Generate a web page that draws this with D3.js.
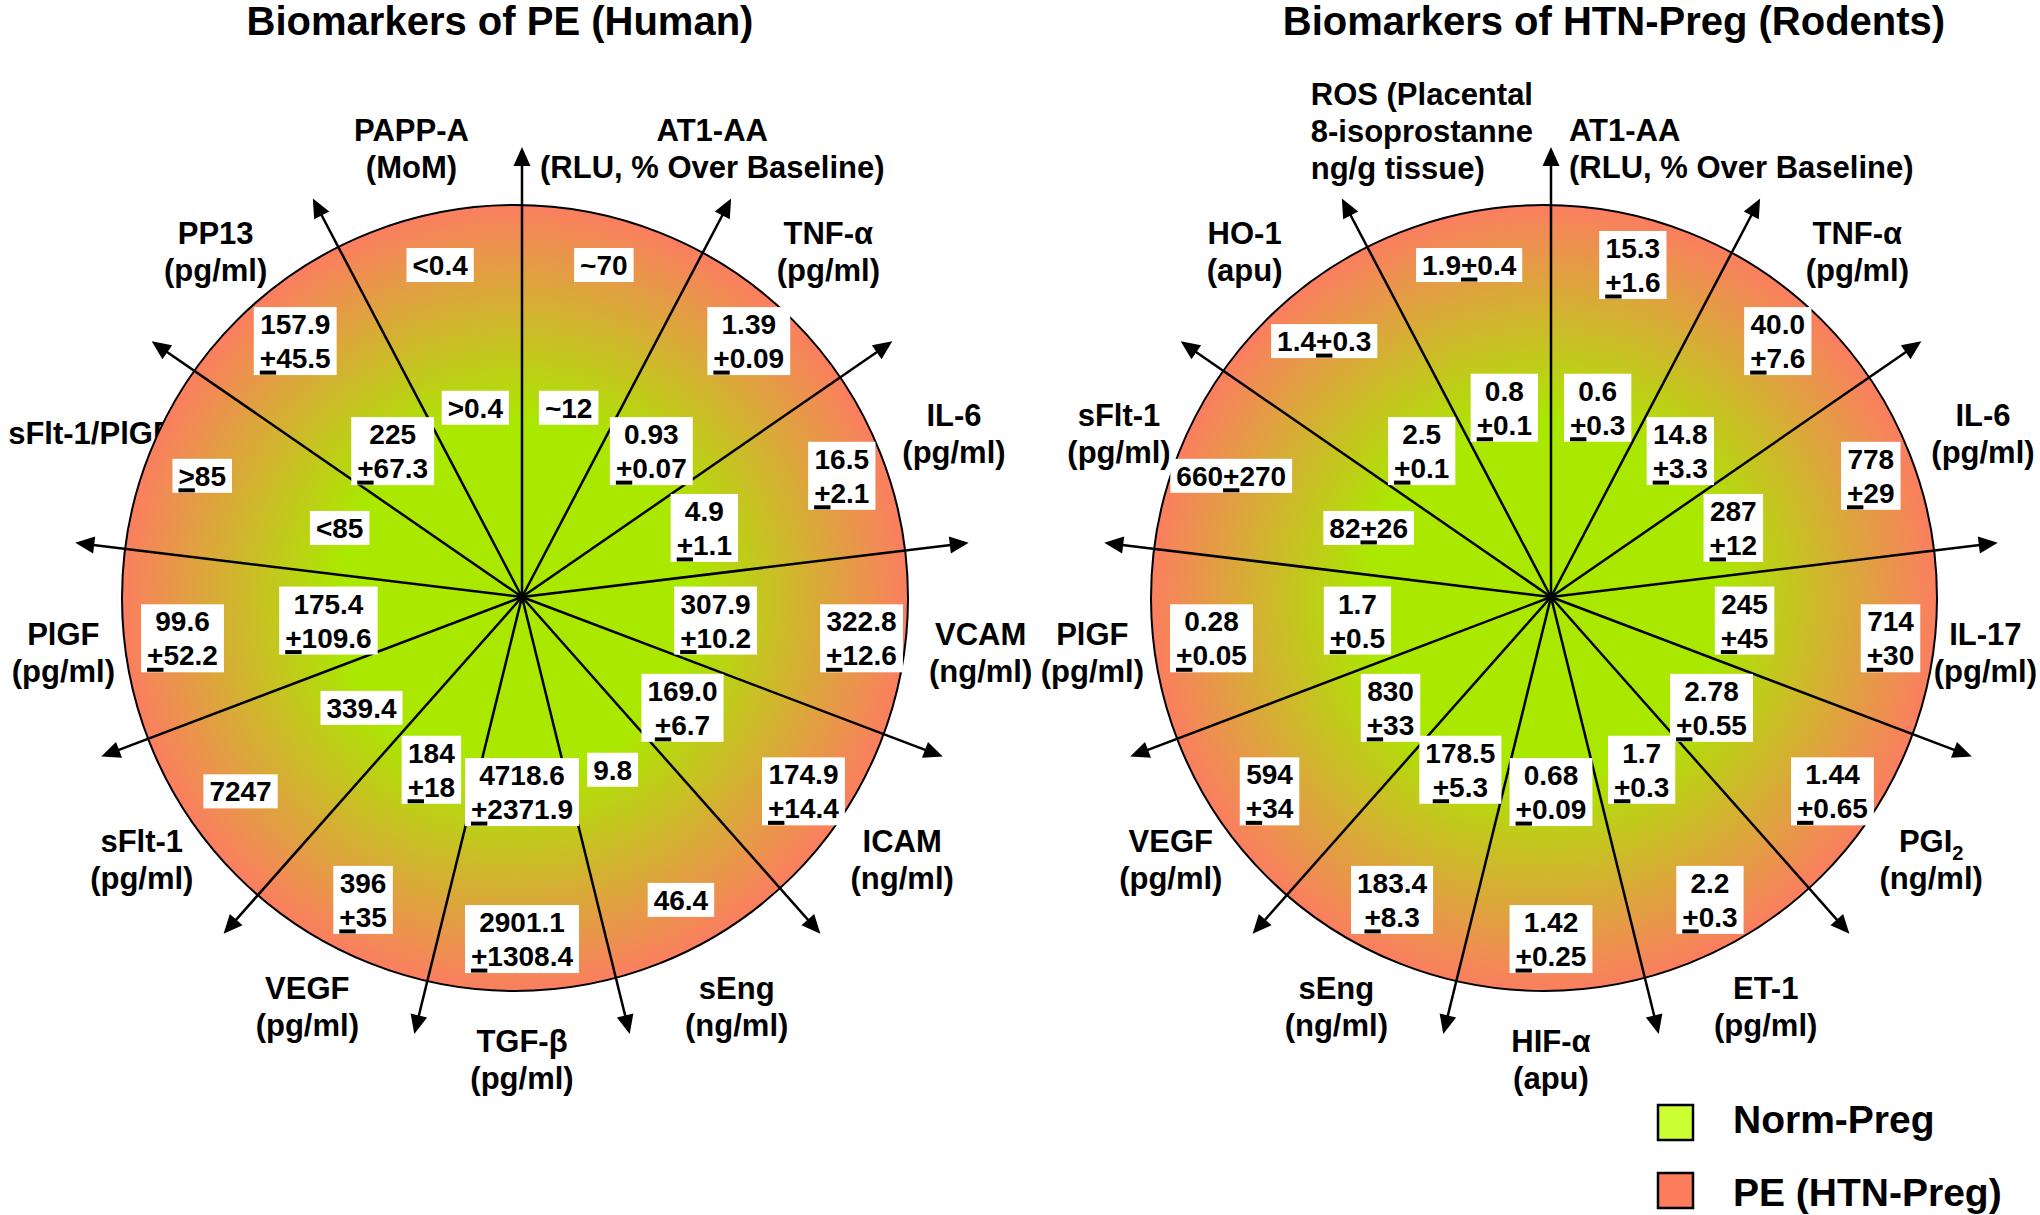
<!DOCTYPE html>
<html lang="en">
  <head>
    <meta charset="UTF-8" />
    <title>Biomarkers of PE / HTN-Preg</title>
    <script src="https://d3js.org/d3.v7.min.js"></script>
    <style>
      body { margin: 0; background: #fff; overflow: hidden; }
      text { font-family: 'Liberation Sans', Arial, sans-serif; font-weight: bold; fill: #000; }
    </style>
  </head>
  <body>
    <svg id="chart" width="2040" height="1215"></svg>
    <script>
      // Human panel: one wedge per marker, clockwise from the vertical arrow
      const humanMarkers = [
        'AT1-AA\n(RLU, % Over Baseline)',
        'TNF-α\n(pg/ml)',
        'IL-6\n(pg/ml)',
        'VCAM\n(ng/ml)',
        'ICAM\n(ng/ml)',
        'sEng\n(ng/ml)',
        'TGF-β\n(pg/ml)',
        'VEGF\n(pg/ml)',
        'sFlt-1\n(pg/ml)',
        'PlGF\n(pg/ml)',
        'sFlt-1/PlGF',
        'PP13\n(pg/ml)',
        'PAPP-A\n(MoM)'
      ]
      const humanNorm = ['~12', '0.93\n±0.07', '4.9\n±1.1', '307.9\n±10.2', '169.0\n±6.7', '9.8',
        '4718.6\n±2371.9', '184\n±18', '339.4', '175.4\n±109.6', '<85', '225\n±67.3', '>0.4']
      const humanPE = ['~70', '1.39\n±0.09', '16.5\n±2.1', '322.8\n±12.6', '174.9\n±14.4', '46.4',
        '2901.1\n±1308.4', '396\n±35', '7247', '99.6\n±52.2', '≥85', '157.9\n±45.5', '<0.4']

      // Rodent panel
      const rodentMarkers = [
        'AT1-AA\n(RLU, % Over Baseline)',
        'TNF-α\n(pg/ml)',
        'IL-6\n(pg/ml)',
        'IL-17\n(pg/ml)',
        'PGI₂\n(ng/ml)',
        'ET-1\n(pg/ml)',
        'HIF-α\n(apu)',
        'sEng\n(ng/ml)',
        'VEGF\n(pg/ml)',
        'PlGF\n(pg/ml)',
        'sFlt-1\n(pg/ml)',
        'HO-1\n(apu)',
        'ROS (Placental\n8-isoprostanne\nng/g tissue)'
      ]
      const rodentNorm = ['0.6\n±0.3', '14.8\n±3.3', '287\n±12', '245\n±45', '2.78\n±0.55', '1.7\n±0.3',
        '0.68\n±0.09', '178.5\n±5.3', '830\n±33', '1.7\n±0.5', '82±26', '2.5\n±0.1', '0.8\n±0.1']
      const rodentPE = ['15.3\n±1.6', '40.0\n±7.6', '778\n±29', '714\n±30', '1.44\n±0.65', '2.2\n±0.3',
        '1.42\n±0.25', '183.4\n±8.3', '594\n±34', '0.28\n±0.05', '660±270', '1.4±0.3', '1.9±0.4']

      const titles = ['Biomarkers of PE (Human)', 'Biomarkers of HTN-Preg (Rodents)']
      const legendLabels = ['Norm-Preg', 'PE (HTN-Preg)']
      const legendColors = ['#ccff33', '#fc7d5b']

      const svg = d3.select('#chart')
      const W = +svg.attr('width')

      // sizes
      const R = 393,
        arrowLen = 450,
        innerR = 195,
        outerR = 342,
        labelR = 462
      const labelSize = 31, labelLh = 37
      const valSize = 28, valLh = 34

      const panels = [
        { title: titles[0], markers: humanMarkers, norm: humanNorm, pe: humanPE, cx: 522, cy: 597, titleX: 500, align: {} },
        { title: titles[1], markers: rodentMarkers, norm: rodentNorm, pe: rodentPE, cx: 1551, cy: 597, titleX: 1614, align: { 0: 'start', 12: 'start' } }
      ]

      // radial fill: green in the middle, salmon at the rim
      const defs = svg.append('defs')
      const grad = defs.append('radialGradient').attr('id', 'fade')
      grad.append('stop').attr('offset', 0).attr('stop-color', '#aae800')
      grad.append('stop').attr('offset', 0.45).attr('stop-color', '#aae800')
      grad.append('stop').attr('offset', 1).attr('stop-color', '#fb7e60')

      // writes a string into a text node, turning ₂ into a real subscript
      function richText(t, str) {
        const parts = str.split(/([₀-₉])/)
        parts.forEach(s => {
          if (!s) return
          if (/[₀-₉]/.test(s)) {
            t.append('tspan').attr('font-size', labelSize * 0.65).attr('dy', 8)
              .text(String.fromCharCode(s.charCodeAt(0) - 0x2080 + 48))
          } else {
            t.append('tspan').text(s)
          }
        })
      }

      function valueBox(g, str, x, y) {
        const lines = str.split('\n')
        const bg = g.append('rect').attr('fill', '#fff')
        const y0 = y - (lines.length - 1) * valLh / 2 + valSize * 0.36
        let w = 0
        lines.forEach((ln, k) => {
          const t = g.append('text')
            .attr('x', x).attr('y', y0 + k * valLh)
            .attr('text-anchor', 'middle').attr('font-size', valSize)
            .text(ln.replace('±', '+').replace('≥', '>'))
          w = Math.max(w, t.node().getComputedTextLength())
          // ± and ≥ are drawn as + and > with a bar underneath
          const idx = ln.search(/[±≥]/)
          if (idx >= 0) {
            const s = t.node().getStartPositionOfChar(idx)
            const e = t.node().getEndPositionOfChar(idx)
            g.append('rect').attr('x', s.x).attr('y', y0 + k * valLh + 2.5)
              .attr('width', e.x - s.x).attr('height', 4).attr('fill', '#000')
          }
        })
        bg.attr('x', x - w / 2 - 6).attr('y', y0 - 27)
          .attr('width', w + 12).attr('height', lines.length * valLh)
      }

      function drawPanel(p) {
        const n = p.markers.length
        const angle = d3.scaleLinear().domain([0, n]).range([Math.PI / 2, Math.PI / 2 - 2 * Math.PI])
        const pt = (a, r) => [p.cx + r * Math.cos(a), p.cy - r * Math.sin(a)]
        const g = svg.append('g')

        g.append('text')
          .attr('x', p.titleX).attr('y', 35)
          .attr('text-anchor', 'middle').attr('font-size', 40)
          .text(p.title)

        // marker names outside the circle
        p.markers.forEach((m, i) => {
          const lines = m.split('\n')
          const r = labelR + Math.max(0, lines.length - 2) * labelLh / 2
          const [x, y] = pt(angle(i + 0.5), r)
          const lg = g.append('g')
          const texts = lines.map((ln, k) => {
            const t = lg.append('text')
              .attr('x', x)
              .attr('y', y - (lines.length - 1) * labelLh / 2 + k * labelLh + labelSize * 0.36)
              .attr('text-anchor', 'middle').attr('font-size', labelSize)
            richText(t, ln)
            return t
          })
          const w = lg.node().getBBox().width
          let c = x
          // keep the wedges next to the vertical arrow clear of it
          if (i === 0 && c - w / 2 < p.cx + 18) c = p.cx + 18 + w / 2
          if (i === n - 1 && c + w / 2 > p.cx - 18) c = p.cx - 18 - w / 2
          // and keep everything on the page
          if (c + w / 2 > W - 3) c = W - 3 - w / 2
          if (c - w / 2 < 2) c = 2 + w / 2
          if (p.align[i] === 'start') {
            texts.forEach(t => t.attr('x', c - w / 2).attr('text-anchor', 'start'))
          } else {
            texts.forEach(t => t.attr('x', c))
          }
        })

        // the drawn disc sits a few pixels left of the arrow hub
        g.append('circle')
          .attr('cx', p.cx - 7).attr('cy', p.cy + 1).attr('r', R)
          .attr('fill', 'url(#fade)')
          .attr('stroke', '#000').attr('stroke-width', 2)

        // arrows, one per wedge boundary
        d3.range(n).forEach(i => {
          const a = angle(i)
          const [x1, y1] = pt(a, arrowLen - 16)
          const [tx, ty] = pt(a, arrowLen)
          const [bx, by] = pt(a, arrowLen - 19)
          const ox = 8.5 * Math.sin(a), oy = 8.5 * Math.cos(a)
          g.append('line')
            .attr('x1', p.cx).attr('y1', p.cy).attr('x2', x1).attr('y2', y1)
            .attr('stroke', '#000').attr('stroke-width', 2.5)
          g.append('path')
            .attr('d', `M${tx},${ty}L${bx + ox},${by + oy}L${bx - ox},${by - oy}Z`)
            .attr('fill', '#000')
        })

        // values: Norm-Preg near the centre, PE near the rim
        d3.range(n).forEach(i => {
          const a = angle(i + 0.5)
          const [ix, iy] = pt(a, innerR)
          valueBox(g, p.norm[i], ix, iy)
          const [ox, oy] = pt(a, outerR)
          valueBox(g, p.pe[i], ox, oy)
        })
      }

      panels.forEach(drawPanel)

      // legend
      const legend = svg.append('g')
      legendLabels.forEach((d, i) => {
        legend.append('rect')
          .attr('x', 1658).attr('y', 1105 + i * 68)
          .attr('width', 35).attr('height', 35)
          .attr('fill', legendColors[i]).attr('stroke', '#000').attr('stroke-width', 2.5)
        legend.append('text')
          .attr('x', 1733).attr('y', 1133 + i * 73)
          .attr('font-size', 39)
          .text(d)
      })
    </script>
  </body>
</html>
